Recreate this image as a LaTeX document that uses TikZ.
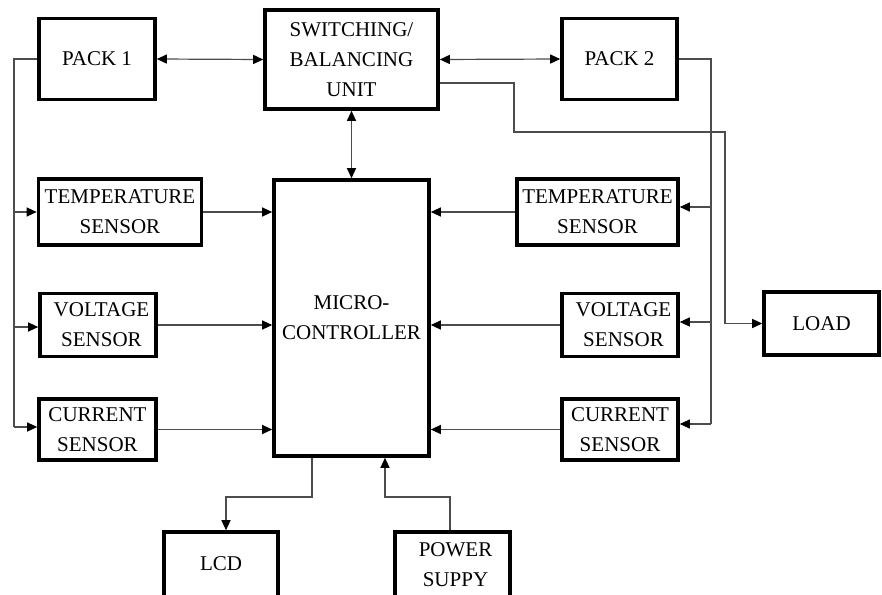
\documentclass[tikz,border=0pt]{standalone}
\usepackage{fontspec}
\setmainfont{Liberation Serif}
\usetikzlibrary{arrows.meta}
\begin{document}
\begin{tikzpicture}[x=1pt,y=-1pt,
  box/.style={draw=black,line width=3.6pt,rectangle,inner sep=0pt,align=center,
    font=\fontsize{21}{30}\selectfont},
  conn/.style={draw=black!70,line width=1.2pt},
  arr/.style={conn,-{Triangle[length=10pt,width=9pt,color=black]}},
  dbl/.style={conn,{Triangle[length=10pt,width=9pt,color=black]}-{Triangle[length=10pt,width=9pt,color=black]}}]
\useasboundingbox (0,0) rectangle (882,594);
% boxes
\node[box,minimum width=116pt,minimum height=81pt] (pack1) at (97,59) {PACK 1};
\node[box,minimum width=173pt,minimum height=99pt] (sw) at (351.5,59.5) {SWITCHING/\\BALANCING\\UNIT};
\node[box,minimum width=115pt,minimum height=81pt] (pack2) at (619.5,59) {PACK 2};
\node[box,minimum width=163pt,minimum height=66pt] (ltemp) at (120,212) {TEMPERATURE\\SENSOR};
\node[box,minimum width=116pt,minimum height=63pt] (lvolt) at (98,325) {\hspace*{7pt}VOLTAGE\\\hspace*{7pt}SENSOR};
\node[box,minimum width=117pt,minimum height=61pt] (lcurr) at (97.5,429.5) {CURRENT\\SENSOR};
\node[box,minimum width=155pt,minimum height=276pt] (mcu) at (351.5,318) {MICRO-\\CONTROLLER};
\node[box,minimum width=161pt,minimum height=66pt] (rtemp) at (597.5,212) {TEMPERATURE\\SENSOR};
\node[box,minimum width=116pt,minimum height=63pt] (rvolt) at (620,325) {\hspace*{7pt}VOLTAGE\\\hspace*{7pt}SENSOR};
\node[box,minimum width=116pt,minimum height=61pt] (rcurr) at (620,429.5) {CURRENT\\SENSOR};
\node[box,minimum width=115pt,minimum height=63pt] (load) at (821.5,323.5) {LOAD};
\node[box,minimum width=114pt,minimum height=66pt] (lcd) at (221,565) {\raisebox{2pt}{LCD}};
\node[box,minimum width=115pt,minimum height=66pt] (power) at (452.5,565) {\hspace*{6pt}POWER\\\hspace*{6pt}SUPPY};
% bus coordinates
\coordinate (lb1) at (14,212);
\coordinate (lb2) at (14,327);
\coordinate (lb3) at (14,427);
\coordinate (rb1) at (711,207);
\coordinate (rb2) at (711,322);
\coordinate (rb3) at (711,424);
% top connectors
\draw[dbl] (pack1.east) -- (sw.west);
\draw[dbl] (sw.east) -- (pack2.west);
\draw[dbl] (sw.south) -- (mcu.north);
% left bus
\draw[conn] (pack1.west) -| (lb3);
\draw[arr] (lb1) -- (lb1 -| ltemp.west);
\draw[arr] (lb2) -- (lb2 -| lvolt.west);
\draw[arr] (lb3) -- (lb3 -| lcurr.west);
% left sensors to MCU
\draw[arr] (ltemp.east) -- (ltemp.east -| mcu.west);
\draw[arr] (lvolt.east) -- (lvolt.east -| mcu.west);
\draw[arr] (lcurr.east) -- (lcurr.east -| mcu.west);
% right bus
\draw[conn] (pack2.east) -| (rb3);
\draw[arr] (rb1) -- (rb1 -| rtemp.east);
\draw[arr] (rb2) -- (rb2 -| rvolt.east);
\draw[arr] (rb3) -- (rb3 -| rcurr.east);
% right sensors to MCU
\draw[arr] (rtemp.west) -- (rtemp.west -| mcu.east);
\draw[arr] (rvolt.west) -- (rvolt.west -| mcu.east);
\draw[arr] (rcurr.west) -- (rcurr.west -| mcu.east);
% switch to load
\draw[arr] (sw.east |- 0,83) -- (514,83) -- (514,132) -- (725,132) |- (load.west);
% bottom
\draw[arr] (mcu.south -| 312,0) -- (312,497) -| (lcd.north -| 226,0);
\draw[arr] (power.north -| 450,0) -- (450,497) -| (mcu.south -| 385,0);
\end{tikzpicture}
\end{document}
